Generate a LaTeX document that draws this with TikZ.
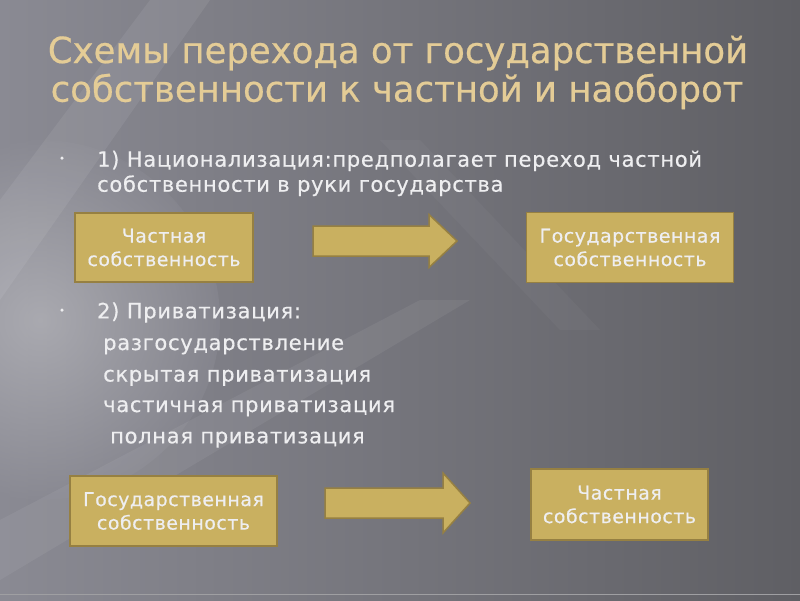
\documentclass[tikz,border=0pt]{standalone}
\usepackage{fontspec}
\setmainfont{DejaVu Sans}[FakeStretch=0.985, FakeBold=0.5]
\newfontfamily\bodyfont{DejaVu Sans}[LetterSpace=3.4, FakeBold=0.5]
\newfontfamily\boxfont{DejaVu Sans}[LetterSpace=2.5, FakeBold=0.5]
\definecolor{bgleft}{RGB}{138,138,147}
\definecolor{bgright}{RGB}{95,95,100}
\definecolor{titlegold}{RGB}{228,204,150}
\definecolor{boxgold}{RGB}{201,176,96}
\definecolor{boxedge}{RGB}{150,128,66}
\definecolor{textwhite}{RGB}{238,238,240}
\tikzset{
  box/.style={draw=boxedge, line width=1.5pt, fill=boxgold, text=textwhite,
    align=center, inner sep=0pt, font=\boxfont\fontsize{19}{23.5}\selectfont},
  titletext/.style={anchor=base, text=titlegold, font=\fontsize{36}{38}\selectfont},
  bodytext/.style={anchor=base west, text=textwhite, inner sep=0pt,
    font=\bodyfont\fontsize{21}{25}\selectfont},
  bulletdot/.style={circle, fill=textwhite, inner sep=0pt, minimum size=3.5pt},
  pics/goldarrow/.style args={#1/#2/#3/#4}{code={
    % #1 length, #2 head length, #3 half body, #4 half head
    \draw[draw=boxedge, line width=1.5pt, fill=boxgold]
      (0,-#3) -- (#1-#2,-#3) -- (#1-#2,-#4) -- (#1,0) -- (#1-#2,#4)
      -- (#1-#2,#3) -- (0,#3) -- cycle;
  }}
}
\begin{document}
\begin{tikzpicture}[x=1pt,y=-1pt]
				% background
				\useasboundingbox (0,0) rectangle (800,600);
				\shade[left color=bgleft, right color=bgright] (0,0) rectangle (800,600);
				\shade[inner color=white!55!bgleft, outer color=bgleft, opacity=0.5] (40,320) circle (180);
				\fill[white, opacity=0.07] (0,200) -- (150,0) -- (210,0) -- (0,300) -- cycle;
				\fill[white, opacity=0.06] (0,520) -- (420,300) -- (470,300) -- (0,580) -- cycle;
				\fill[white, opacity=0.03] (380,140) -- (420,140) -- (600,330) -- (560,330) -- cycle;
				\draw[white!40!bgright, line width=1pt] (0,594) -- (800,594);
				
				% title
				\node[titletext] (title1) at (398,63) {Схемы перехода от государственной};
				\node[titletext] (title2) at (397,101.7) {собственности к частной и наоборот};
				
				% first item
				\node[bulletdot] (dot1) at (62,158) {};
				\node[bodytext] (nat1) at (97,166.7) {1) Национализация:предполагает переход частной};
				\node[bodytext] (nat2) at (97,191.7) {собственности в руки государства};
				
				\node[box, minimum width=178, minimum height=69] (priv1) at (164,247.5) {Частная\\собственность};
				\node[box, minimum width=207, minimum height=70] (state1) at (630,247.5) {Государственная\\собственность};
				\coordinate (arr1) at (313,241);
				\pic at (arr1) {goldarrow={144/28/15/26.5}};
				
				% second item
				\node[bulletdot] (dot2) at (62,310) {};
				\node[bodytext] (pv0) at (97,318.3) {2) Приватизация:};
				\node[bodytext] (pv1) at (103,350) {разгосударствление};
				\node[bodytext] (pv2) at (103,381.5) {скрытая приватизация};
				\node[bodytext] (pv3) at (103,412) {частичная приватизация};
				\node[bodytext] (pv4) at (110,443.3) {полная приватизация};
				
				\node[box, minimum width=207, minimum height=70] (state2) at (173.5,511) {Государственная\\собственность};
				\node[box, minimum width=177, minimum height=71] (priv2) at (619.5,504.5) {Частная\\собственность};
				\coordinate (arr2) at (325,503);
				\pic at (arr2) {goldarrow={145/27/15/30}};
\end{tikzpicture}
\end{document}
